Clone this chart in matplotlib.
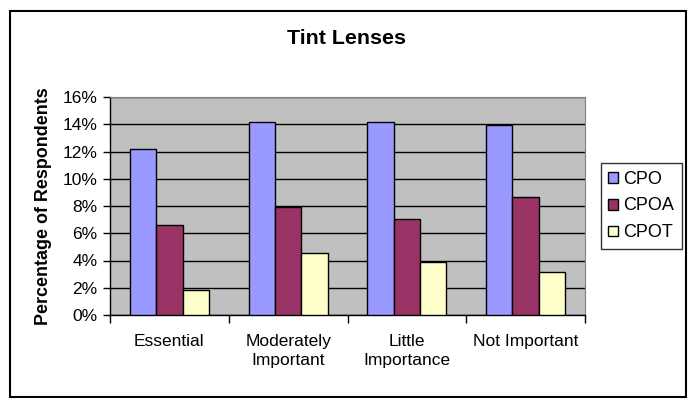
import numpy as np
import matplotlib
matplotlib.use("Agg")
import matplotlib.pyplot as plt
from matplotlib.patches import Rectangle

plt.rcParams['font.family'] = ['Liberation Sans', 'DejaVu Sans']

# -----------------------------
# Dados
# -----------------------------
categorias = ["Essential", "Moderately\nImportant", "Little\nImportance", "Not Important"]
series = ["CPO", "CPOA", "CPOT"]
cpo = [12.17, 14.13, 14.13, 13.94]
cpoa = [6.60, 7.95, 7.02, 8.66]
cpot = [1.86, 4.55, 3.91, 3.18]
cores = ["#9999FF", "#993366", "#FFFFCC"]

# -----------------------------
# Figura
# -----------------------------
fig = plt.figure(figsize=(6.92, 3.98), dpi=100)
ax = fig.add_axes([110 / 692, 83 / 398, 475 / 692, 218 / 398])
ax.set_facecolor("#C0C0C0")

x = np.arange(len(categorias))
w = 0.222
for i, (nome, vals) in enumerate(zip(series, [cpo, cpoa, cpot])):
    ax.bar(x + (i - 1) * w, vals, w, color=cores[i], edgecolor="black",
           linewidth=1.0, label=nome, zorder=3)

ax.set_xlim(-0.5, 3.5)
ax.set_ylim(0, 16)
ax.set_yticks(range(0, 17, 2))
ax.set_yticklabels([f"{v}%" for v in range(0, 17, 2)], fontsize=12.5)
ax.yaxis.grid(True, color="black", linewidth=1.0, zorder=1)
ax.set_axisbelow(True)

# rótulos no centro, marcas entre categorias
ax.set_xticks(x)
ax.set_xticklabels(categorias, fontsize=12.5, linespacing=1.3)
ax.tick_params(axis="x", which="major", length=0, pad=14)
ax.set_xticks(np.arange(-0.5, 4.0, 1.0), minor=True)
ax.tick_params(axis="x", which="minor", length=6, width=1, color="black")
ax.tick_params(axis="y", length=5, width=1, pad=4)

for s in ["top", "right"]:
    ax.spines[s].set_color("#808080")
for s in ["left", "bottom"]:
    ax.spines[s].set_color("black")
    ax.spines[s].set_linewidth(1.0)

ax.set_ylabel("Percentage of Respondents", fontsize=12.9, fontweight="bold", labelpad=8)
fig.text(347 / 692, 1 - 38 / 398, "Tint Lenses", fontsize=15.4, fontweight="bold",
         ha="center", va="center")

leg = fig.legend(loc="center left", bbox_to_anchor=(601 / 692, 1 - 206 / 398),
                 fontsize=13, frameon=True, fancybox=False, handlelength=0.55,
                 handleheight=0.55, handletextpad=0.3, labelspacing=0.55,
                 borderpad=0.4, borderaxespad=0)
leg.get_frame().set_edgecolor("black")
leg.get_frame().set_linewidth(1.0)

# moldura externa
fig.patches.append(Rectangle((10 / 692, 1 / 398), 676 / 692, 386 / 398,
                             transform=fig.transFigure, fill=False,
                             edgecolor="black", linewidth=1.5))

fig.savefig("out.png", dpi=100)
